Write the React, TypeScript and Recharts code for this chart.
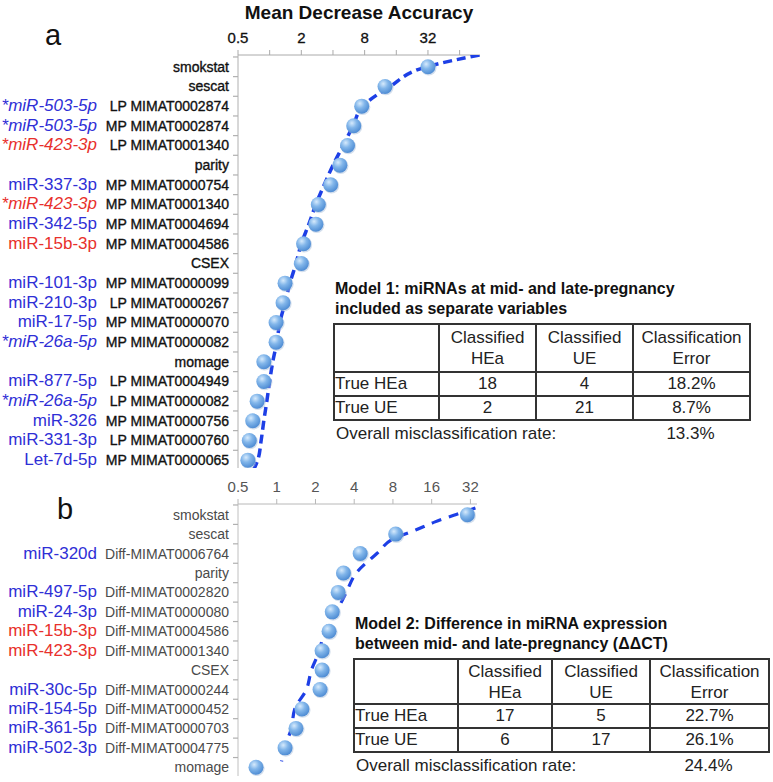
import React from 'react';
import { Scatter, ScatterChart, XAxis, YAxis } from 'recharts';

const FONT = '"Liberation Sans", Arial, Helvetica, sans-serif';

// panel a: mid- and late-pregnancy as separate variables
const aAccession = [
  'smokstat', 'sescat', 'LP MIMAT0002874', 'MP MIMAT0002874', 'LP MIMAT0001340', 'parity',
  'MP MIMAT0000754', 'MP MIMAT0001340', 'MP MIMAT0004694', 'MP MIMAT0004586', 'CSEX',
  'MP MIMAT0000099', 'LP MIMAT0000267', 'MP MIMAT0000070', 'MP MIMAT0000082', 'momage',
  'LP MIMAT0004949', 'LP MIMAT0000082', 'MP MIMAT0000756', 'LP MIMAT0000760', 'MP MIMAT0000065',
];
const aMirna = [
  '', '', '*miR-503-5p', '*miR-503-5p', '*miR-423-3p', '', 'miR-337-3p', '*miR-423-3p',
  'miR-342-5p', 'miR-15b-3p', '', 'miR-101-3p', 'miR-210-3p', 'miR-17-5p', '*miR-26a-5p', '',
  'miR-877-5p', '*miR-26a-5p', 'miR-326', 'miR-331-3p', 'Let-7d-5p',
];
const aImportance = [
  32, 12.5, 7.5, 6.3, 5.5, 4.65, 3.8, 2.9, 2.75, 2.1, 2.0, 1.4, 1.34, 1.15, 1.15, 0.88, 0.88,
  0.76, 0.69, 0.64, 0.62,
];
const aTrendRow = [-0.6, 0, 1, 2, 3, 4, 5, 6, 7, 8, 9, 10, 11, 12, 13, 14, 15, 16, 17, 18, 19, 20, 20.45];
const aTrendValue = [
  99, 31, 14, 7.7, 6.2, 5.0, 4.0, 3.3, 2.75, 2.36, 2.0, 1.78, 1.56, 1.4, 1.25, 1.17, 1.07, 1.0,
  0.94, 0.88, 0.83, 0.77, 0.71,
];
const aTicks = [0.5, 1, 2, 4, 8, 16, 32, 64];
const aTickLabels = [0.5, 2, 8, 32];

// panel b: difference between mid- and late-pregnancy
const bAccession = [
  'smokstat', 'sescat', 'Diff-MIMAT0006764', 'parity', 'Diff-MIMAT0002820', 'Diff-MIMAT0000080',
  'Diff-MIMAT0004586', 'Diff-MIMAT0001340', 'CSEX', 'Diff-MIMAT0000244', 'Diff-MIMAT0000452',
  'Diff-MIMAT0000703', 'Diff-MIMAT0004775', 'momage',
];
const bMirna = [
  '', '', 'miR-320d', '', 'miR-497-5p', 'miR-24-3p', 'miR-15b-3p', 'miR-423-3p', '', 'miR-30c-5p',
  'miR-154-5p', 'miR-361-5p', 'miR-502-3p', '',
];
const bImportance = [30.3, 8.4, 4.45, 3.3, 3.0, 2.7, 2.55, 2.25, 2.25, 2.17, 1.57, 1.41, 1.16, 0.69];
const bTrendRow = [-0.34, 0, 0.37, 0.79, 1.2, 2, 3, 4, 5, 6, 7, 8, 9, 10, 11, 12, 12.7];
const bTrendValue = [35, 24.5, 17, 12, 8.3, 6.0, 4.15, 3.47, 2.9, 2.35, 2.15, 1.86, 1.7, 1.38, 1.3, 1.15, 1.09];
const bTicks = [0.5, 1, 2, 4, 8, 16, 32];

const redMirna = ['*miR-423-3p', 'miR-423-3p', 'miR-15b-3p'];

const modelA = {
  title: ['Model 1: miRNAs at mid- and late-pregnancy', 'included as separate variables'],
  rows: [['True HEa', '18', '4', '18.2%'], ['True UE', '2', '21', '8.7%']],
  overall: '13.3%',
};
const modelB = {
  title: ['Model 2: Difference in miRNA expression', 'between mid- and late-pregnancy (ΔΔCT)'],
  rows: [['True HEa', '17', '5', '22.7%'], ['True UE', '6', '17', '26.1%']],
  overall: '24.4%',
};

const rowTicks = (n: number, top: number) => {
  const t: number[] = [];
  for (let i = 0; i < n; i++) {
    if (i - 0.5 >= top) t.push(i - 0.5);
    t.push(i);
  }
  return t;
};

const RowTick = (props) => {
  const { x, y, payload, accession, mirna, panelB } = props;
  const v = payload.value;
  if (!Number.isInteger(v)) {
    return <line x1={x} x2={x - 5} y1={y} y2={y} stroke="#b0b0b0" strokeWidth={1.2} />;
  }
  const name = mirna[v];
  const italic = name.startsWith('*');
  const ink = panelB ? '#4a4a4a' : '#111';
  return (
    <g>
      <text
        x={x - 9}
        y={y + 5}
        textAnchor="end"
        fontSize={14}
        fontFamily={FONT}
        fill={ink}
        stroke={panelB ? 'none' : ink}
        strokeWidth={0.35}
      >
        {accession[v]}
      </text>
      {name && (
        <text
          x={x - 141}
          y={y + 5}
          textAnchor="end"
          fontSize={17}
          fontFamily={FONT}
          fontStyle={italic ? 'italic' : 'normal'}
          fill={redMirna.includes(name) ? '#e8302c' : '#2f2fd6'}
        >
          {name}
        </text>
      )}
    </g>
  );
};

const Ball = (props) => {
  const { cx, cy } = props;
  if (cx == null || cy == null) return <g />;
  return (
    <g>
      <circle cx={cx + 0.8} cy={cy + 1} r={7.8} fill="#9fb8d6" opacity={0.45} />
      <circle cx={cx} cy={cy} r={7.5} fill="url(#ballGrad)" />
    </g>
  );
};

const NoDot = () => <g />;

const ModelTable = ({ model, left, top, widths, headH }) => {
  const cell = {
    border: '2px solid #333',
    padding: 0,
    textAlign: 'center' as const,
    fontSize: 17,
    lineHeight: '21px',
    color: '#222',
  };
  return (
    <div style={{ position: 'absolute', left, top, fontFamily: FONT }}>
      <div style={{ position: 'absolute', left: 2, top: -44, fontWeight: 'bold', fontSize: 16, lineHeight: '20px', color: '#111', whiteSpace: 'nowrap' }}>
        {model.title[0]}
        <br />
        {model.title[1]}
      </div>
      <table style={{ borderCollapse: 'collapse', tableLayout: 'fixed', width: widths.reduce((s, w) => s + w, 0) }}>
        <colgroup>
          {widths.map((w, i) => (
            <col key={i} style={{ width: w }} />
          ))}
        </colgroup>
        <tbody>
          <tr style={{ height: headH }}>
            <td style={cell}></td>
            <td style={cell}>Classified<br />HEa</td>
            <td style={cell}>Classified<br />UE</td>
            <td style={cell}>Classification<br />Error</td>
          </tr>
          {model.rows.map((r, i) => (
            <tr key={i} style={{ height: 24 }}>
              {r.map((c, j) => (
                <td key={j} style={{ ...cell, textAlign: j === 0 ? 'left' : 'center', lineHeight: '20px' }}>
                  {c}
                </td>
              ))}
            </tr>
          ))}
        </tbody>
      </table>
      <div style={{ position: 'relative', fontSize: 17, color: '#222', height: 22, lineHeight: '22px', marginTop: 2 }}>
        <span style={{ position: 'absolute', left: 3 }}>Overall misclassification rate:</span>
        <span
          style={{
            position: 'absolute',
            left: widths[0] + widths[1] + widths[2],
            width: widths[3],
            textAlign: 'center',
          }}
        >
          {model.overall}
        </span>
      </div>
    </div>
  );
};

const App = () => {
  const aPoints = aImportance.map((v, i) => ({ x: v, y: i }));
  const aTrend = aTrendRow.map((r, i) => ({ x: aTrendValue[i], y: r }));
  const bPoints = bImportance.map((v, i) => ({ x: v, y: i }));
  const bTrend = bTrendRow.map((r, i) => ({ x: bTrendValue[i], y: r }));

  return (
    <div style={{ position: 'absolute', left: 0, top: 0, width: 773, height: 782, background: '#fff', fontFamily: FONT }}>
      <svg width={0} height={0} style={{ position: 'absolute' }}>
        <defs>
          <radialGradient id="ballGrad" cx="38%" cy="32%" r="70%">
            <stop offset="0%" stopColor="#d6eafc" />
            <stop offset="45%" stopColor="#82b6ea" />
            <stop offset="100%" stopColor="#4d8bd3" />
          </radialGradient>
        </defs>
      </svg>

      <div style={{ position: 'absolute', left: 0, top: 0 }}>
        <ScatterChart width={773} height={480} margin={{ top: 35, right: 293, bottom: 12, left: 0 }}>
          <XAxis
            xAxisId={0}
            orientation="top"
            dataKey="x"
            type="number"
            scale="log"
            domain={[0.5, 100]}
            allowDataOverflow
            ticks={aTicks}
            interval={0}
            height={20}
            tickSize={5}
            tickMargin={7}
            tickFormatter={(v) => (aTickLabels.includes(v) ? String(v) : '')}
            tick={{ fill: '#111', fontSize: 15, fontFamily: FONT, stroke: '#111', strokeWidth: 0.3 }}
            stroke="#aaa"
            label={{
              value: 'Mean Decrease Accuracy',
              position: 'top',
              offset: 16,
              fill: '#111',
              fontSize: 19,
              fontWeight: 'bold',
              fontFamily: FONT,
            }}
          />
          <YAxis
            yAxisId={0}
            dataKey="y"
            type="number"
            domain={[-0.6, 20.4]}
            reversed
            allowDataOverflow
            ticks={rowTicks(21, -0.6)}
            interval={0}
            width={238}
            tickSize={0}
            tickMargin={0}
            tickLine={false}
            stroke="#b0b0b0"
            tick={(p) => <RowTick {...p} accession={aAccession} mirna={aMirna} />}
          />
          <Scatter
            data={aTrend}
            shape={<NoDot />}
            line={{ stroke: '#1d3fe6', strokeWidth: 3.5, strokeDasharray: '9 5' }}
            lineJointType="monotoneY"
            isAnimationActive={false}
          />
          <Scatter data={aPoints} shape={<Ball />} isAnimationActive={false} />
        </ScatterChart>
      </div>

      <div style={{ position: 'absolute', left: 0, top: 460 }}>
        <ScatterChart width={773} height={322} margin={{ top: 24, right: 296, bottom: 6, left: 0 }}>
          <XAxis
            xAxisId={0}
            orientation="top"
            dataKey="x"
            type="number"
            scale="log"
            domain={[0.5, 36]}
            allowDataOverflow
            ticks={bTicks}
            interval={0}
            height={20}
            tickSize={5}
            tickMargin={7}
            tick={{ fill: '#555', fontSize: 15, fontFamily: FONT }}
            stroke="#b8b8b8"
          />
          <YAxis
            yAxisId={0}
            dataKey="y"
            type="number"
            domain={[-0.55, 13.45]}
            reversed
            allowDataOverflow
            ticks={rowTicks(14, -0.55)}
            interval={0}
            width={238}
            tickSize={0}
            tickMargin={0}
            tickLine={false}
            stroke="#c0c0c0"
            tick={(p) => <RowTick {...p} accession={bAccession} mirna={bMirna} panelB />}
          />
          <Scatter
            data={bTrend}
            shape={<NoDot />}
            line={{ stroke: '#1d3fe6', strokeWidth: 3.2, strokeDasharray: '10 8' }}
            lineJointType="monotoneY"
            isAnimationActive={false}
          />
          <Scatter data={bPoints} shape={<Ball />} isAnimationActive={false} />
        </ScatterChart>
      </div>

      <div style={{ position: 'absolute', left: 45, top: 18, fontSize: 29, color: '#111', lineHeight: '34px' }}>a</div>
      <div style={{ position: 'absolute', left: 57, top: 492, fontSize: 29, color: '#111', lineHeight: '34px' }}>b</div>

      <ModelTable model={modelA} left={333} top={323} widths={[105, 97, 97, 117]} headH={48} />
      <ModelTable model={modelB} left={353} top={658} widths={[104, 94, 98, 119]} headH={45} />
    </div>
  );
};

export default App;
